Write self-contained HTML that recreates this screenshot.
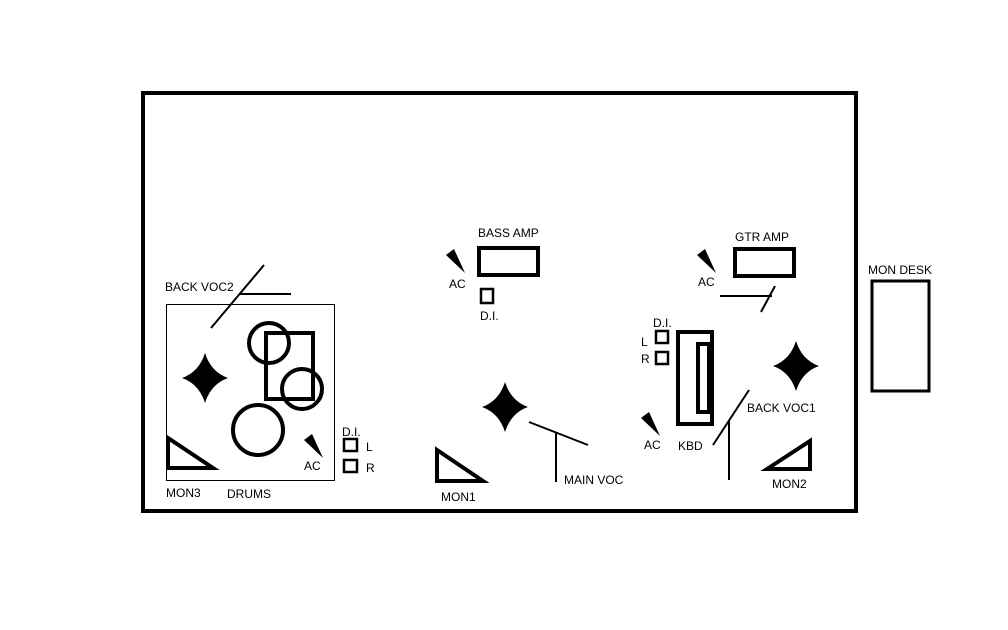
<!DOCTYPE html>
<html><head><meta charset="utf-8"><style>
html,body{margin:0;padding:0;background:#fff;}
svg{display:block;}
text{font-family:"Liberation Sans",sans-serif;font-size:12px;fill:#000;}
</style></head><body>
<svg width="1008" height="630" viewBox="0 0 1008 630" xmlns="http://www.w3.org/2000/svg">
<defs>
<path id="star" d="M0,-25 Q6,-6 23,0 Q6,6 0,25 Q-6,6 -23,0 Q-6,-6 0,-25 Z" fill="#000"/>
<polygon id="bolt" points="-6,0 2,-6 13,18" fill="#000"/>
</defs>
<rect x="143" y="93" width="713" height="418" fill="none" stroke="#000" stroke-width="4"/>
<!-- drums -->
<rect x="166.5" y="304.5" width="168" height="176" fill="none" stroke="#000" stroke-width="1"/>
<use href="#star" x="205" y="378"/>
<circle cx="269" cy="343" r="20" fill="none" stroke="#000" stroke-width="4"/>
<rect x="266" y="333" width="47" height="66" fill="none" stroke="#000" stroke-width="4"/>
<circle cx="302" cy="389" r="20" fill="none" stroke="#000" stroke-width="4"/>
<circle cx="258" cy="430" r="25" fill="none" stroke="#000" stroke-width="4"/>
<polygon points="168,438 168,468 213,468" fill="none" stroke="#000" stroke-width="4" stroke-linejoin="miter"/>
<use href="#bolt" x="310" y="440"/>
<text x="304" y="470">AC</text>
<text x="166" y="497">MON3</text>
<text x="227" y="498">DRUMS</text>
<text x="165" y="291">BACK VOC2</text>
<line x1="211" y1="328" x2="264" y2="265" stroke="#000" stroke-width="2"/>
<line x1="240" y1="294" x2="291" y2="294" stroke="#000" stroke-width="2"/>
<text x="342" y="436">D.I.</text>
<rect x="344" y="439" width="13" height="12" fill="none" stroke="#000" stroke-width="2.5"/>
<rect x="344" y="460" width="13" height="12" fill="none" stroke="#000" stroke-width="2.5"/>
<text x="366" y="451">L</text>
<text x="366" y="472">R</text>
<!-- bass -->
<text x="478" y="237">BASS AMP</text>
<rect x="479" y="248" width="59" height="27" fill="none" stroke="#000" stroke-width="4"/>
<use href="#bolt" x="452" y="255"/>
<text x="449" y="288">AC</text>
<rect x="481" y="289" width="12" height="14" fill="none" stroke="#000" stroke-width="2.5"/>
<text x="480" y="320">D.I.</text>
<use href="#star" x="505" y="407"/>
<line x1="529" y1="422" x2="588" y2="445" stroke="#000" stroke-width="2"/>
<line x1="556" y1="433" x2="556" y2="482" stroke="#000" stroke-width="2"/>
<text x="564" y="484">MAIN VOC</text>
<polygon points="437,450 437,481 483,481" fill="none" stroke="#000" stroke-width="4"/>
<text x="441" y="501">MON1</text>
<!-- guitar -->
<text x="735" y="241">GTR AMP</text>
<rect x="735" y="249" width="59" height="27" fill="none" stroke="#000" stroke-width="4"/>
<use href="#bolt" x="703" y="255"/>
<text x="698" y="286">AC</text>
<line x1="720" y1="296" x2="772" y2="296" stroke="#000" stroke-width="2"/>
<line x1="761" y1="312" x2="775" y2="286" stroke="#000" stroke-width="2"/>
<text x="653" y="327">D.I.</text>
<rect x="656" y="331" width="12" height="12" fill="none" stroke="#000" stroke-width="2.5"/>
<rect x="656" y="352" width="12" height="12" fill="none" stroke="#000" stroke-width="2.5"/>
<text x="641" y="346">L</text>
<text x="641" y="363">R</text>
<rect x="678" y="332" width="34" height="92" fill="none" stroke="#000" stroke-width="4"/>
<rect x="698" y="344" width="11" height="68" fill="none" stroke="#000" stroke-width="4"/>
<use href="#bolt" x="647" y="418"/>
<text x="644" y="449">AC</text>
<text x="678" y="450">KBD</text>
<use href="#star" x="796" y="366"/>
<text x="747" y="412">BACK VOC1</text>
<line x1="713" y1="445" x2="749" y2="390" stroke="#000" stroke-width="2"/>
<line x1="729" y1="420" x2="729" y2="480" stroke="#000" stroke-width="2"/>
<polygon points="767,469 810,441 810,469" fill="none" stroke="#000" stroke-width="4"/>
<text x="772" y="488">MON2</text>
<!-- mon desk -->
<text x="868" y="274">MON DESK</text>
<rect x="872" y="281" width="57" height="110" fill="none" stroke="#000" stroke-width="3"/>
</svg>
</body></html>
